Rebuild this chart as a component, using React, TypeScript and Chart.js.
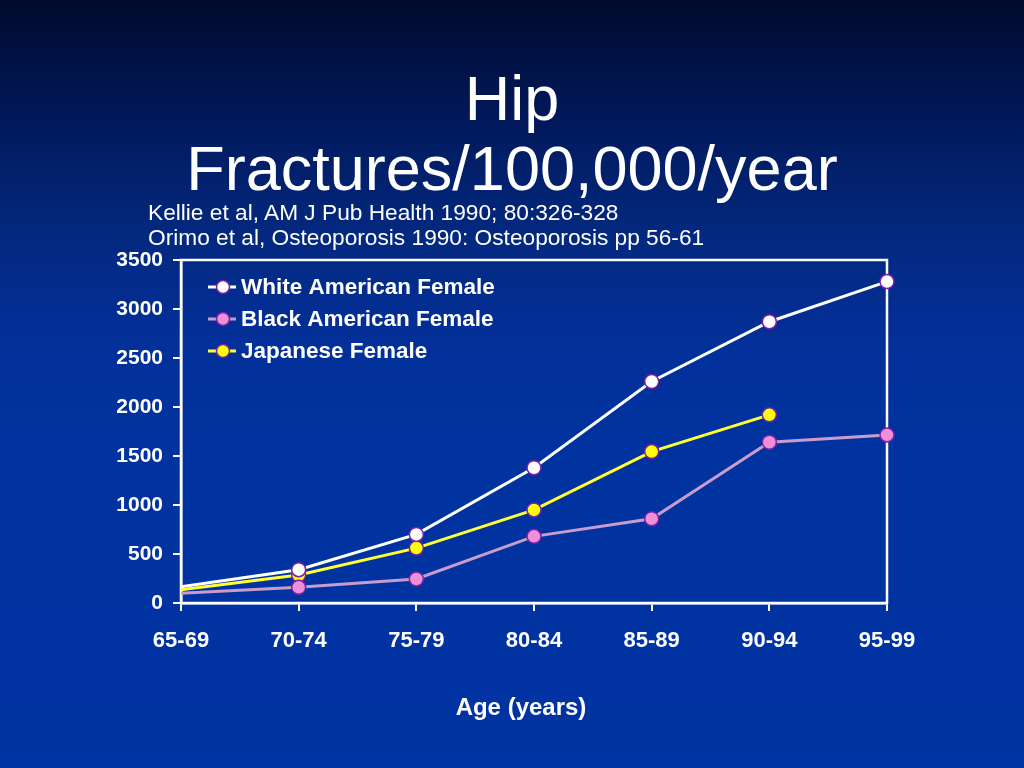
import React, { useEffect, useRef } from "react";
import { Chart, registerables } from "chart.js";

Chart.register(...registerables);

const ageGroups = ["65-69", "70-74", "75-79", "80-84", "85-89", "90-94", "95-99"];
const whiteAmericanFemale = [165, 340, 700, 1380, 2260, 2870, 3280];
const blackAmericanFemale = [100, 160, 245, 680, 860, 1640, 1715];
const japaneseFemale = [135, 285, 560, 950, 1545, 1920, null];
const seriesLabels = ["White American Female", "Black American Female", "Japanese Female"];
const yMin = 0;
const yMax = 3500;
const yStep = 500;
const titleLines = ["Hip", "Fractures/100,000/year"];
const sourceLines = [
  "Kellie et al, AM J Pub Health 1990; 80:326-328",
  "Orimo et al, Osteoporosis 1990: Osteoporosis pp 56-61",
];
const xAxisTitle = "Age (years)";

const FONT = "'Liberation Sans', Arial, Helvetica, sans-serif";

const framePlugin = {
  id: "frame",
  beforeDatasetsDraw(chart: any) {
    const { ctx, chartArea: a } = chart;
    ctx.save();
    ctx.strokeStyle = "#ffffff";
    ctx.lineWidth = 2.5;
    ctx.strokeRect(a.left, a.top, a.right - a.left, a.bottom - a.top);
    ctx.restore();
  },
};

const insideLegendPlugin = {
  id: "insideLegend",
  afterDraw(chart: any) {
    const { ctx, chartArea: a } = chart;
    const x0 = a.left + 27;
    const y0 = a.top + 27;
    chart.data.datasets.forEach((ds: any, i: number) => {
      const y = y0 + i * 32;
      ctx.save();
      ctx.strokeStyle = ds.borderColor;
      ctx.lineWidth = 3;
      ctx.beginPath();
      ctx.moveTo(x0, y);
      ctx.lineTo(x0 + 28, y);
      ctx.stroke();
      ctx.beginPath();
      ctx.arc(x0 + 15, y, 6.5, 0, Math.PI * 2);
      ctx.fillStyle = ds.pointBackgroundColor;
      ctx.fill();
      ctx.strokeStyle = ds.pointBorderColor;
      ctx.lineWidth = 1.5;
      ctx.stroke();
      ctx.fillStyle = "#ffffff";
      ctx.font = `bold 22.5px ${FONT}`;
      ctx.textBaseline = "middle";
      ctx.textAlign = "left";
      ctx.fillText(ds.label, x0 + 33, y + 1);
      ctx.restore();
    });
  },
};

const hideFirst = (c: any) => (c.dataIndex === 0 ? 0 : 7);

export default function App() {
  const canvasRef = useRef<HTMLCanvasElement | null>(null);

  useEffect(() => {
    if (!canvasRef.current) return;
    const chart = new Chart(canvasRef.current, {
      type: "line",
      data: {
        labels: ageGroups,
        datasets: [
          {
            label: seriesLabels[0],
            data: whiteAmericanFemale,
            borderColor: "#ffffff",
            borderWidth: 3,
            pointBackgroundColor: "#ffffff",
            pointBorderColor: "#7a1fa8",
            pointBorderWidth: 1.5,
            pointRadius: hideFirst,
            tension: 0,
          },
          {
            label: seriesLabels[1],
            data: blackAmericanFemale,
            borderColor: "#c99ccd",
            borderWidth: 3,
            pointBackgroundColor: "#ee90d8",
            pointBorderColor: "#7a1fa8",
            pointBorderWidth: 1.5,
            pointRadius: hideFirst,
            tension: 0,
          },
          {
            label: seriesLabels[2],
            data: japaneseFemale,
            borderColor: "#ffff33",
            borderWidth: 3,
            pointBackgroundColor: "#ffff00",
            pointBorderColor: "#7a1fa8",
            pointBorderWidth: 1.5,
            pointRadius: hideFirst,
            tension: 0,
            spanGaps: false,
          },
        ],
      },
      options: {
        responsive: false,
        animation: false,
        devicePixelRatio: 1,
        layout: { padding: { top: 260, left: 0, right: 137, bottom: 0 } },
        plugins: {
          legend: { display: false },
          title: { display: false },
          tooltip: { enabled: false },
        },
        scales: {
          x: {
            type: "category",
            offset: false,
            afterFit: (s: any) => {
              s.height = 165;
            },
            grid: {
              display: true,
              drawOnChartArea: false,
              drawTicks: true,
              tickLength: 8,
              color: "#ffffff",
              lineWidth: 2,
              offset: false,
            },
            border: { display: true, color: "#ffffff", width: 2.5 },
            ticks: {
              color: "#ffffff",
              font: { family: FONT, size: 22, weight: "bold" },
              padding: 17,
              maxRotation: 0,
              autoSkip: false,
            },
          },
          y: {
            min: yMin,
            max: yMax,
            afterFit: (s: any) => {
              s.width = 181;
            },
            grid: {
              display: true,
              drawOnChartArea: false,
              drawTicks: true,
              tickLength: 8,
              color: "#ffffff",
              lineWidth: 2,
            },
            border: { display: true, color: "#ffffff", width: 2.5 },
            ticks: {
              stepSize: yStep,
              color: "#ffffff",
              font: { family: FONT, size: 21, weight: "bold" },
              padding: 10,
              callback: (v: any) => String(v),
            },
          },
        },
      },
      plugins: [framePlugin, insideLegendPlugin],
    } as any);
    return () => chart.destroy();
  }, []);

  return (
    <div
      style={{
        position: "fixed",
        left: 0,
        top: 0,
        width: 1024,
        height: 768,
        overflow: "hidden",
        fontFamily: FONT,
        color: "#ffffff",
        background:
          "linear-gradient(to bottom, #000a2c 0%, #011756 14%, #03287e 30%, #03309a 45%, #0033a0 60%, #0034a2 100%)",
      }}
    >
      <canvas
        ref={canvasRef}
        width={1024}
        height={768}
        style={{ position: "absolute", left: 0, top: 0 }}
      />
      <div
        style={{
          position: "absolute",
          left: 0,
          top: 63,
          width: 1024,
          textAlign: "center",
          fontSize: 63,
          lineHeight: "70px",
          whiteSpace: "nowrap",
        }}
      >
        {titleLines.map((t) => (
          <div key={t}>{t}</div>
        ))}
      </div>
      <div
        style={{
          position: "absolute",
          left: 148,
          top: 200,
          fontSize: 22.7,
          lineHeight: "25px",
          whiteSpace: "nowrap",
        }}
      >
        {sourceLines.map((t) => (
          <div key={t}>{t}</div>
        ))}
      </div>
      <div
        style={{
          position: "absolute",
          left: 421,
          top: 693,
          width: 200,
          textAlign: "center",
          fontSize: 24,
          fontWeight: "bold",
          lineHeight: "28px",
          whiteSpace: "nowrap",
        }}
      >
        {xAxisTitle}
      </div>
    </div>
  );
}
